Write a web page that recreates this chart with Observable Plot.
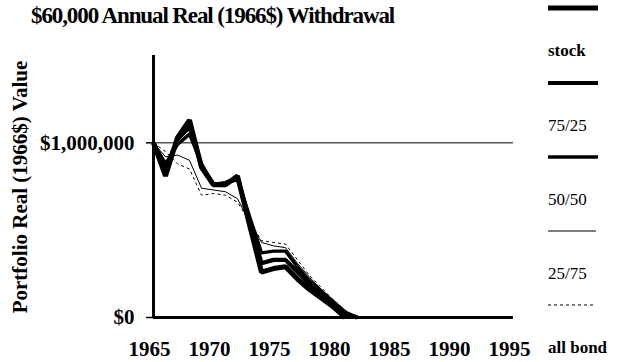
<!DOCTYPE html>
<html>
<head>
<meta charset="utf-8">
<script src="https://cdn.jsdelivr.net/npm/d3@7"></script>
<script src="https://cdn.jsdelivr.net/npm/@observablehq/plot@0.6"></script>
<style>
  html, body { margin: 0; padding: 0; background: #fff; }
  #wrap { position: relative; width: 624px; height: 362px; overflow: hidden; font-family: "Liberation Serif", "Times New Roman", serif; color: #000; }
  #title { position: absolute; left: 31px; top: 3px; font-size: 23px; letter-spacing: -1.1px; font-weight: bold; white-space: nowrap; }
  #ylabel { position: absolute; left: 20px; top: 187px; font-size: 21px; font-weight: bold; white-space: nowrap; transform: translate(-50%, -50%) rotate(-90deg); }
  #legend { position: absolute; left: 0; top: 0; }
  #chart { position: absolute; left: 0; top: 0; }
</style>
</head>
<body>
<div id="wrap">
  <div id="chart"></div>
  <div id="title">$60,000 Annual Real (1966$) Withdrawal</div>
  <div id="ylabel">Portfolio Real (1966$) Value</div>
  <svg id="legend" width="624" height="362"></svg>
</div>
<script>
// Years (x categories)
const years = [1965,1966,1967,1968,1969,1970,1971,1972,1973,1974,1975,1976,1977,1978,1979,1980,1981,1982];

// Portfolio real values (1966$)
const stock    = [1000000, 810000,1030000,1130000, 860000, 760000, 760000, 810000, 530000, 260000, 280000, 290000, 220000, 160000, 110000,  60000,      0];
const mix7525  = [1000000, 850000,1020000,1090000, 870000, 760000, 770000, 800000, 560000, 310000, 330000, 330000, 260000, 190000, 130000,  80000,  20000,      0];
const mix5050  = [1000000, 880000, 990000,1050000, 880000, 760000, 770000, 790000, 580000, 370000, 380000, 380000, 290000, 210000, 150000,  90000,  30000,      0];
const mix2575  = [1000000, 920000, 930000, 900000, 740000, 730000, 720000, 680000, 550000, 430000, 410000, 400000, 310000, 230000, 160000,  90000,  30000,      0];
const allBond  = [1000000, 950000, 880000, 850000, 700000, 710000, 700000, 660000, 550000, 440000, 430000, 420000, 330000, 240000, 170000, 100000,  40000,      0];

const seriesNames = ["stock", "75/25", "50/50", "25/75", "all bond"];
const seriesValues = [stock, mix7525, mix5050, mix2575, allBond];

// Tick values
const xTicks = [1965, 1970, 1975, 1980, 1985, 1990, 1995];
const yTicks = [0, 1000000];
const referenceLevel = [1000000];

// Styles per series
const styles = {
  "stock":    {strokeWidth: 5,   dash: null},
  "75/25":    {strokeWidth: 4.2, dash: null},
  "50/50":    {strokeWidth: 3.4, dash: null},
  "25/75":    {strokeWidth: 1,   dash: null},
  "all bond": {strokeWidth: 1,   dash: "3,3"}
};

const rows = [];
seriesNames.forEach((name, i) => {
  seriesValues[i].forEach((v, j) => rows.push({series: name, year: years[j], value: v}));
});

const lineMarks = seriesNames.slice().reverse().map(name =>
  Plot.line(rows.filter(r => r.series === name), {
    x: "year", y: "value",
    stroke: "black",
    strokeWidth: styles[name].strokeWidth,
    strokeDasharray: styles[name].dash,
    strokeLinejoin: "miter",
    strokeLinecap: "butt"
  })
);

const fmt = d3.format(",");
const chart = Plot.plot({
  width: 624,
  height: 362,
  marginLeft: 153,
  marginRight: 111,
  marginTop: 55,
  marginBottom: 45,
  style: {fontFamily: "'Liberation Serif', 'Times New Roman', serif", fontWeight: "bold", fontSize: "21px", color: "black", background: "white"},
  x: {domain: [1965, 1995], axis: null},
  y: {domain: [0, 1500000], axis: null},
  marks: [
    Plot.ruleY(referenceLevel, {stroke: "black", strokeWidth: 1}),
    ...lineMarks,
    Plot.ruleX([1965], {y1: 0, y2: 1500000, stroke: "black", strokeWidth: 3}),
    Plot.ruleY([0], {stroke: "black", strokeWidth: 3}),
    Plot.axisY({ticks: yTicks, tickFormat: d => "$" + fmt(d), tickSize: 7, tickPadding: 12, fontSize: 21, fontWeight: "bold", strokeWidth: 1.5, label: null}),
    Plot.axisX({ticks: xTicks, tickFormat: d => String(d), tickSize: 0, tickPadding: 24, fontSize: 21, fontWeight: "bold", dx: -4, label: null})
  ]
});
document.getElementById("chart").appendChild(chart);

// Legend: sample line above each label
const legend = d3.select("#legend");
const legendTop = [8, 83, 157, 231, 305];
seriesNames.forEach((name, i) => {
  const y0 = legendTop[i];
  legend.append("line")
    .attr("x1", 548).attr("x2", i < 3 ? 598 : 596)
    .attr("y1", y0).attr("y2", y0)
    .attr("stroke", "black")
    .attr("stroke-width", styles[name].strokeWidth)
    .attr("stroke-dasharray", styles[name].dash);
  legend.append("text")
    .attr("x", 548).attr("y", y0 + 48)
    .attr("font-family", "'Liberation Serif', 'Times New Roman', serif")
    .attr("font-size", 17)
    .attr("font-weight", (name === "stock" || name === "all bond") ? "bold" : "normal")
    .text(name);
});
</script>
</body>
</html>
